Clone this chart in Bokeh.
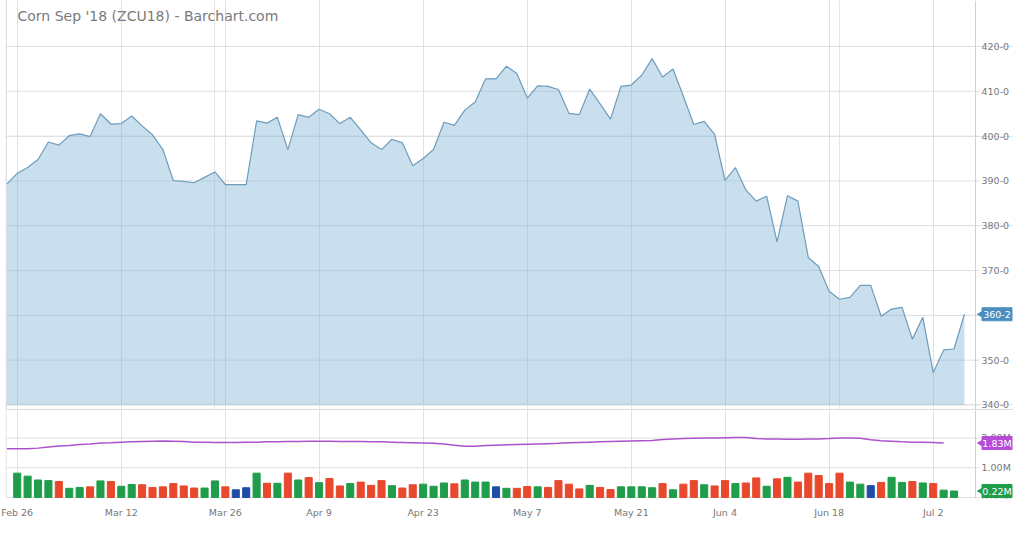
import math
import pandas as pd
from bokeh.plotting import figure
from bokeh.layouts import column
from bokeh.models import Range1d, FixedTicker, Grid, Label, Span, ColumnDataSource
from bokeh.core.properties import value
from bokeh.embed import file_html
from bokeh.resources import INLINE

# ---------------- data ----------------
holidays = ["2018-03-30", "2018-05-28", "2018-07-04"]
dates = [d for d in pd.bdate_range("2018-02-23", "2018-07-06") if d.strftime("%Y-%m-%d") not in holidays]
date_labels = [d.strftime("%b %-d") for d in dates]

tick_labels = ["Feb 26", "Mar 12", "Mar 26", "Apr 9", "Apr 23", "May 7", "May 21", "Jun 4", "Jun 18", "Jul 2"]

close = [389.3,
         391.7, 393.0, 394.8, 398.7, 398.0, 400.1, 400.5, 399.9, 405.0, 402.7,
         402.8, 404.5, 402.3, 400.3, 397.0, 390.1, 389.9, 389.6, 390.8, 392.0,
         389.2, 389.2, 389.2, 403.4, 402.9, 404.2, 397.0, 404.8, 404.2, 406.0,
         405.0, 402.8, 404.2, 401.4, 398.5, 397.0, 399.3, 398.5, 393.4, 395.0,
         397.0, 403.1, 402.4, 405.8, 407.6, 412.8, 412.8, 415.6, 414.0, 408.5,
         411.2, 411.1, 410.4, 405.1, 404.8, 410.5, 407.2, 403.8, 411.1, 411.4,
         413.6, 417.3, 413.2, 415.0, 408.9, 402.6, 403.3, 400.4, 390.1, 393.0,
         388.0, 385.5, 386.6, 376.4, 386.7, 385.5, 372.9, 370.9, 365.4, 363.6,
         364.0, 366.7, 366.7, 359.8, 361.4, 361.8, 354.7, 359.6, 347.2, 352.3,
         352.5, 360.25]

# volume in millions, from Feb 26 onward
volume = [0.82, 0.72, 0.59, 0.57, 0.54, 0.31, 0.34, 0.36, 0.56, 0.54,
          0.38, 0.44, 0.43, 0.34, 0.36, 0.47, 0.39, 0.32, 0.32, 0.56,
          0.36, 0.26, 0.33, 0.82, 0.48, 0.48, 0.82, 0.59, 0.67, 0.50,
          0.64, 0.39, 0.47, 0.52, 0.41, 0.57, 0.40, 0.32, 0.43, 0.45,
          0.38, 0.49, 0.46, 0.59, 0.52, 0.52, 0.36, 0.31, 0.31, 0.37,
          0.36, 0.34, 0.57, 0.45, 0.29, 0.41, 0.34, 0.27, 0.36, 0.36,
          0.36, 0.33, 0.47, 0.26, 0.45, 0.57, 0.43, 0.39, 0.57, 0.47,
          0.49, 0.66, 0.38, 0.63, 0.68, 0.52, 0.82, 0.74, 0.47, 0.82,
          0.52, 0.45, 0.40, 0.51, 0.68, 0.51, 0.54, 0.49, 0.47, 0.25,
          0.22]

# average volume (millions), from Feb 23
avg_volume = [1.64,
              1.64, 1.64, 1.66, 1.70, 1.73, 1.75, 1.78, 1.80, 1.83, 1.84,
              1.86, 1.87, 1.88, 1.89, 1.90, 1.89, 1.88, 1.86, 1.86, 1.85,
              1.85, 1.85, 1.86, 1.86, 1.87, 1.87, 1.88, 1.88, 1.89, 1.89,
              1.89, 1.88, 1.88, 1.88, 1.87, 1.87, 1.86, 1.85, 1.84, 1.83,
              1.82, 1.80, 1.76, 1.72, 1.72, 1.75, 1.76, 1.77, 1.78, 1.79,
              1.80, 1.81, 1.82, 1.84, 1.85, 1.86, 1.87, 1.88, 1.89, 1.90,
              1.91, 1.92, 1.95, 1.97, 1.98, 1.99, 2.00, 2.00, 2.01, 2.02,
              2.02, 1.98, 1.97, 1.97, 1.96, 1.96, 1.97, 1.97, 1.98, 2.00,
              2.00, 1.99, 1.94, 1.91, 1.89, 1.87, 1.86, 1.86, 1.85, 1.83]

price_ticks = [340, 350, 360, 370, 380, 390, 400, 410, 420]
price_tick_labels = ["340-0", "350-0", "360-0", "370-0", "380-0", "390-0", "400-0", "410-0", "420-0"]
vol_ticks = [0, 1, 2]
vol_tick_labels = ["0.00M", "1.00M", "2.00M"]
last_price_label = "360-2"
last_avg_label = "1.83M"
last_vol_label = "0.22M"

# ---------------- layout constants ----------------
FONT = "DejaVu Sans"
GRID = "#e0e0e0"
W = 1013
LEFT = 5                 # frame left border in px
SCALE = 10.409           # px per trading day
X0 = -0.124              # data x at frame left edge


def px2x(px):
    return X0 + (px - LEFT) / SCALE


xr = Range1d(X0, px2x(W))
AXIS_X = px2x(975)
GRID_END = px2x(979)
LABEL_X = px2x(981)
BADGE_X = px2x(996.5)
BADGE_W = 30 / SCALE

# ---------------- derived ----------------
x_price = list(range(len(close)))
x_vol = list(range(1, 1 + len(volume)))
x_avg = list(range(len(avg_volume)))
vol_colors = []
for i, v in enumerate(volume):
    d = close[i + 1] - close[i]
    vol_colors.append("#1f9d4b" if d > 0 else ("#e8482c" if d < 0 else "#1f4da6"))
tick_pos = [date_labels.index(t) for t in tick_labels]


def add_badge(p, y, text, color):
    p.rect(x=[BADGE_X], y=[y], width=BADGE_W, height=13, height_units="screen",
           fill_color=color, line_color=color)
    p.scatter(x=[BADGE_X - BADGE_W / 2 - 0.05], y=[y], marker="triangle", size=7,
              angle=math.pi / 2, fill_color=color, line_color=color)
    p.text(x=[BADGE_X], y=[y], text=[text], text_font=value(FONT), text_font_size="9.5px",
           text_color="white", text_align="center", text_baseline="middle")


def style_pane(p, ticks, labels):
    p.outline_line_color = None
    p.segment(x0=[X0] * len(ticks), x1=[GRID_END] * len(ticks), y0=ticks, y1=ticks,
              line_color=GRID, line_width=1)
    p.add_layout(Span(location=AXIS_X, dimension="height", line_color="#d0d0d0", line_width=1))
    p.add_layout(Span(location=X0 + 0.05, dimension="height", line_color="#dcdcdc", line_width=1))
    p.text(x=[LABEL_X] * len(ticks), y=ticks, text=labels, text_font=value(FONT),
           text_font_size="9.5px", text_color="#777777", text_baseline="middle")


# ---------------- price pane ----------------
p1 = figure(width=W, height=410, x_range=xr, y_range=Range1d(338.77, 430.27),
            output_backend="svg", toolbar_location=None, x_axis_location=None,
            y_axis_location=None, min_border_left=LEFT, min_border_top=0,
            min_border_bottom=0, min_border_right=0)
p1.add_layout(Grid(dimension=0, ticker=FixedTicker(ticks=tick_pos), grid_line_color=GRID))
style_pane(p1, price_ticks, price_tick_labels)
p1.add_layout(Span(location=339.0, dimension="width", line_color="#dcdcdc", line_width=1))

src = ColumnDataSource(dict(x=x_price, y=close, base=[340] * len(close)))
p1.varea(x="x", y1="base", y2="y", source=src, fill_color="#7fb2d4", fill_alpha=0.42)
p1.line(x="x", y="y", source=src, line_color="#6e9cbd", line_width=1.2)

p1.add_layout(Label(x=px2x(17), y=426.92, text="Corn Sep '18 (ZCU18) - Barchart.com",
                    text_font=FONT, text_font_size="14px", text_color="#7a7a7a",
                    text_baseline="middle"))
add_badge(p1, close[-1], last_price_label, "#4a8fbf")

# ---------------- volume pane ----------------
p2 = figure(width=W, height=110, x_range=xr, y_range=Range1d(-0.031, 2.923),
            output_backend="svg", toolbar_location=None, y_axis_location=None,
            min_border_left=LEFT, min_border_top=0, min_border_bottom=14, min_border_right=0)
p2.xgrid.ticker = FixedTicker(ticks=tick_pos)
p2.xgrid.grid_line_color = GRID
p2.ygrid.visible = False
p2.xaxis.ticker = FixedTicker(ticks=tick_pos)
p2.xaxis.major_label_overrides = {pos: lab for pos, lab in zip(tick_pos, tick_labels)}
p2.xaxis.axis_line_color = None
p2.xaxis.major_tick_line_color = None
p2.xaxis.minor_tick_line_color = None
p2.xaxis.major_label_standoff = 2
p2.xaxis.major_label_text_font = FONT
p2.xaxis.major_label_text_font_size = "9.5px"
p2.xaxis.major_label_text_color = "#777777"
style_pane(p2, vol_ticks, vol_tick_labels)

vsrc = ColumnDataSource(dict(x=x_vol, top=volume, color=vol_colors))
p2.vbar(x="x", top="top", bottom=0, width=0.68, color="color", source=vsrc)
p2.line(x=x_avg, y=avg_volume, line_color="#ad52cc", line_width=1.5)

add_badge(p2, avg_volume[-1], last_avg_label, "#b64cd6")
add_badge(p2, volume[-1], last_vol_label, "#1f9d4b")

layout = column(p1, p2, spacing=0)
open("out.html", "w").write(file_html(layout, INLINE))
